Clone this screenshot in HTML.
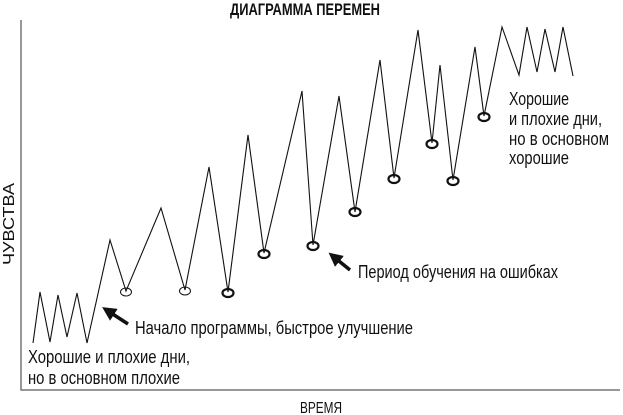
<!DOCTYPE html><html><head><meta charset="utf-8"><style>body{margin:0;background:#fff}svg{display:block}text{font-family:"Liberation Sans Narrow","Liberation Sans",sans-serif;fill:#111}</style></head><body>
<svg width="623" height="415" viewBox="0 0 623 415">
<defs><marker id="a" markerWidth="4" markerHeight="4" refX="2" refY="2" orient="auto"><path d="M0,0L4,2L0,4z" fill="#111"/></marker></defs>
<path d="M21,20V390H620" fill="none" stroke="#777" stroke-width="1.5"/>
<text x="305" y="15" font-size="17" font-weight="bold" text-anchor="middle" textLength="150" lengthAdjust="spacingAndGlyphs">ДИАГРАММА ПЕРЕМЕН</text>
<polyline fill="none" stroke="#111" stroke-width="1.1" points="33,343 40,292 50,342 58,295 67,337 77,293 87,343 110,240 126,291 161,208 185,290 209,167 228,292 248,135 264,253 302,91 313,245 339,96 355,212 380,60 394,178 418,30 432,143 440,65 453,180 475,47 484,116 502,27 519,75 527,27 537,72 545,29 555,72 563,27 573,76"/>
<g fill="none" stroke="#111">
<ellipse cx="126" cy="292" rx="5.5" ry="4" stroke-width="1"/>
<ellipse cx="185" cy="291" rx="5.5" ry="4" stroke-width="1"/>
<g stroke-width="2.2">
<ellipse cx="228" cy="293" rx="5.5" ry="4"/><ellipse cx="264" cy="254" rx="5.5" ry="4"/><ellipse cx="313" cy="246" rx="5.5" ry="4"/><ellipse cx="355" cy="212" rx="5.5" ry="4"/><ellipse cx="394" cy="179" rx="5.5" ry="4"/><ellipse cx="432" cy="144" rx="5.5" ry="4"/><ellipse cx="453" cy="181" rx="5.5" ry="4"/><ellipse cx="484" cy="117" rx="5.5" ry="4"/></g></g>
<line x1="128" y1="324" x2="108" y2="311" stroke="#111" stroke-width="3.5" marker-end="url(#a)"/>
<line x1="350" y1="270" x2="334" y2="257" stroke="#111" stroke-width="3.5" marker-end="url(#a)"/>
<g font-size="18">
<text x="28" y="363" textLength="162" lengthAdjust="spacingAndGlyphs">Хорошие и плохие дни,</text>
<text x="28" y="384" textLength="152" lengthAdjust="spacingAndGlyphs">но в основном плохие</text>
<text x="135" y="334" textLength="278" lengthAdjust="spacingAndGlyphs">Начало программы, быстрое улучшение</text>
<text x="358" y="278" textLength="200" lengthAdjust="spacingAndGlyphs">Период обучения на ошибках</text>
<text x="509" y="105" textLength="60" lengthAdjust="spacingAndGlyphs">Хорошие</text>
<text x="509" y="125" textLength="93" lengthAdjust="spacingAndGlyphs">и плохие дни,</text>
<text x="509" y="145" textLength="100" lengthAdjust="spacingAndGlyphs">но в основном</text>
<text x="509" y="164" textLength="60" lengthAdjust="spacingAndGlyphs">хорошие</text>
<text x="300" y="413" font-size="16" textLength="42" lengthAdjust="spacingAndGlyphs">ВРЕМЯ</text>
<text transform="translate(14,265) rotate(-90)" font-size="16" textLength="82" lengthAdjust="spacingAndGlyphs">ЧУВСТВА</text>
</g>
</svg></body></html>
